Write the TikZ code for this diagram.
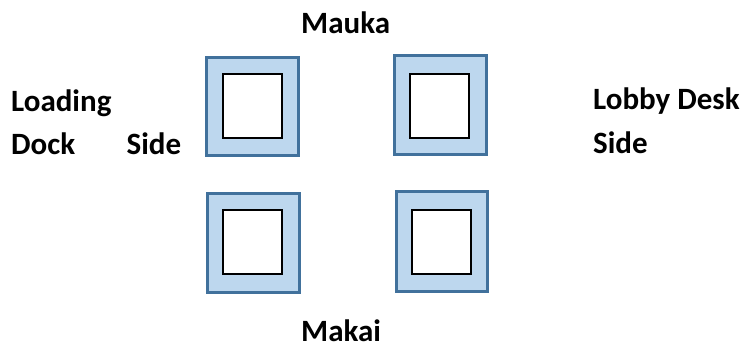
\documentclass[tikz,border=0pt]{standalone}
\usepackage{fontspec}
\setmainfont{Carlito}
\definecolor{padfill}{HTML}{BDD7EE}
\definecolor{paddraw}{HTML}{41719C}
\begin{document}
\begin{tikzpicture}[x=1pt,y=-1pt,
  outerbox/.style={draw=paddraw,fill=padfill,line width=3pt,inner sep=0pt},
  innerbox/.style={draw=black,fill=white,line width=2.2pt,inner sep=0pt},
  lbl/.style={anchor=base west,inner sep=0pt,font=\fontsize{31}{37}\selectfont\bfseries}]
\useasboundingbox (0,0) rectangle (742,347);
% outer squares
\node[outerbox,minimum width=91.5pt,minimum height=98.5pt] (o1) at (252.5,106.6) {};
\node[outerbox,minimum width=91.5pt,minimum height=99pt] (o2) at (440.6,105.5) {};
\node[outerbox,minimum width=91.5pt,minimum height=99pt] (o3) at (253.5,242.6) {};
\node[outerbox,minimum width=91pt,minimum height=100pt] (o4) at (441.5,241.7) {};
% inner squares
\node[innerbox,minimum width=59.3pt,minimum height=63.4pt] (i1) at (252.6,106) {};
\node[innerbox,minimum width=59.3pt,minimum height=63.7pt] (i2) at (439.6,106.1) {};
\node[innerbox,minimum width=59.3pt,minimum height=63.7pt] (i3) at (252.6,242.1) {};
\node[innerbox,minimum width=59.3pt,minimum height=64pt] (i4) at (441.6,242.3) {};
% labels
\node[lbl] (mauka) at (301,33.3) {Mauka};
\node[lbl,text depth=0pt] (makai) at (301,342) {Makai};
\node[lbl] (loading) at (11,111.7) {Loading};
\node[lbl] (dock) at (11,155) {Dock};
\node[lbl] (side1) at (126.5,155) {Side};
\node[lbl] (lobby) at (593,109.3) {Lobby Desk};
\node[lbl] (side2) at (593,154) {Side};
\end{tikzpicture}
\end{document}
